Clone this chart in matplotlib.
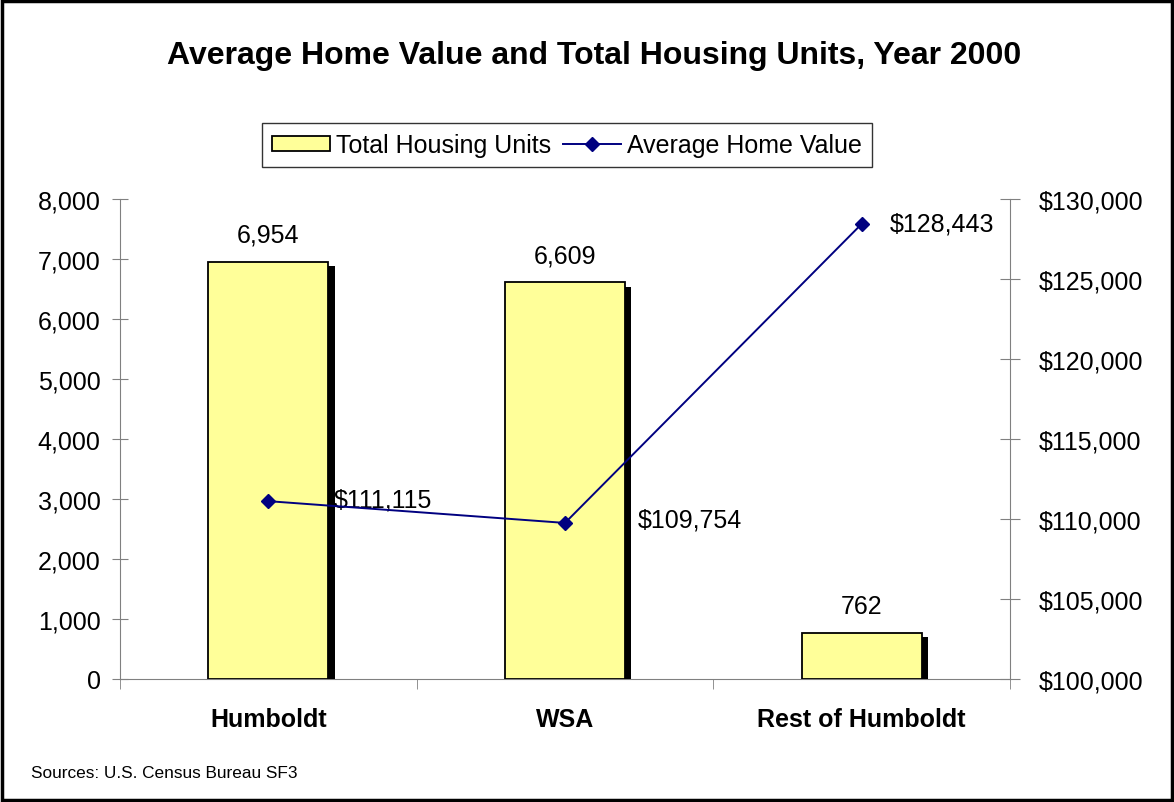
import matplotlib.pyplot as plt
import matplotlib.patheffects as pe
from matplotlib.patches import Rectangle
from matplotlib.ticker import FuncFormatter
import numpy as np

plt.rcParams['font.family'] = ['Liberation Sans', 'DejaVu Sans']

areas = ['Humboldt', 'WSA', 'Rest of Humboldt']
housing_units = [6954, 6609, 762]
home_value = [111115, 109754, 128443]

BAR = '#ffff99'
LINE = '#000080'
FS = 18

fig = plt.figure(figsize=(11.74, 8.03), dpi=100)
ax = fig.add_axes([0.1022, 0.1532, 0.7581, 0.5977])
x = np.arange(len(areas))

bars = ax.bar(x, housing_units, width=0.405, color=BAR, edgecolor='black',
              linewidth=1.3, zorder=3,
              path_effects=[pe.SimplePatchShadow(offset=(4.5, -3), shadow_rgbFace='black', alpha=1),
                            pe.Normal()])
for xi, v in zip(x, housing_units):
    ax.text(xi, v + 450, f'{v:,}', ha='center', va='center', fontsize=FS)

ax.set_xlim(-0.5, len(areas) - 0.5)
ax.set_ylim(0, 8000)
ax.set_yticks(np.arange(0, 8001, 1000))
ax.yaxis.set_major_formatter(FuncFormatter(lambda v, p: f'{v:,.0f}'))
ax.set_xticks(x)
ax.set_xticklabels(areas, fontsize=FS, fontweight='bold')
ax.set_xticks(np.arange(-0.5, len(areas)), minor=True)
ax.tick_params(axis='x', which='major', length=0, pad=20)
ax.tick_params(axis='x', which='minor', length=7, color='#808080', direction='out')
ax.tick_params(axis='y', labelsize=FS, length=12, direction='inout', color='#808080', pad=8)
ax.spines['top'].set_visible(False)
ax.spines['right'].set_visible(False)
for s in ('left', 'bottom'):
    ax.spines[s].set_color('#808080')

ax2 = ax.twinx()
ax2.plot(x, home_value, color=LINE, marker='D', markersize=7, linewidth=1.4, zorder=4)
ax2.set_ylim(100000, 130000)
ax2.set_yticks(np.arange(100000, 130001, 5000))
ax2.yaxis.set_major_formatter(FuncFormatter(lambda v, p: f'${v:,.0f}'))
ax2.tick_params(axis='y', labelsize=FS, length=14, direction='inout', color='#808080', pad=14)
for s in ('top', 'left', 'bottom'):
    ax2.spines[s].set_visible(False)
ax2.spines['right'].set_color('#808080')

offsets = [(0.22, 0.12), (0.245, 0.2), (0.095, 0.0)]
for xi, v, (dx, dy) in zip(x, home_value, offsets):
    ax2.text(xi + dx, v + dy * 1000, f'${v:,}', ha='left', va='center', fontsize=FS)

handles = [Rectangle((0, 0), 1, 1, facecolor=BAR, edgecolor='black', linewidth=1.3),
           plt.Line2D([], [], color=LINE, marker='D', markersize=7, linewidth=1.4)]
leg = fig.legend(handles, ['Total Housing Units', 'Average Home Value'], ncol=2,
                 loc='center', bbox_to_anchor=(0.483, 0.818), fontsize=FS,
                 frameon=True, fancybox=False, edgecolor='black', handlelength=2.3,
                 handleheight=0.55, columnspacing=0.5, handletextpad=0.25, borderpad=0.4)
leg.get_frame().set_linewidth(1.0)

fig.text(0.506, 0.930, 'Average Home Value and Total Housing Units, Year 2000',
         ha='center', va='center', fontsize=23, fontweight='bold')
fig.text(0.026, 0.037, 'Sources: U.S. Census Bureau SF3', ha='left', va='center', fontsize=12.4)

fig.patches.append(Rectangle((0.002, 0.003), 0.996, 0.994, transform=fig.transFigure,
                             fill=False, edgecolor='black', linewidth=2.5))

fig.savefig('out.png', dpi=100)
